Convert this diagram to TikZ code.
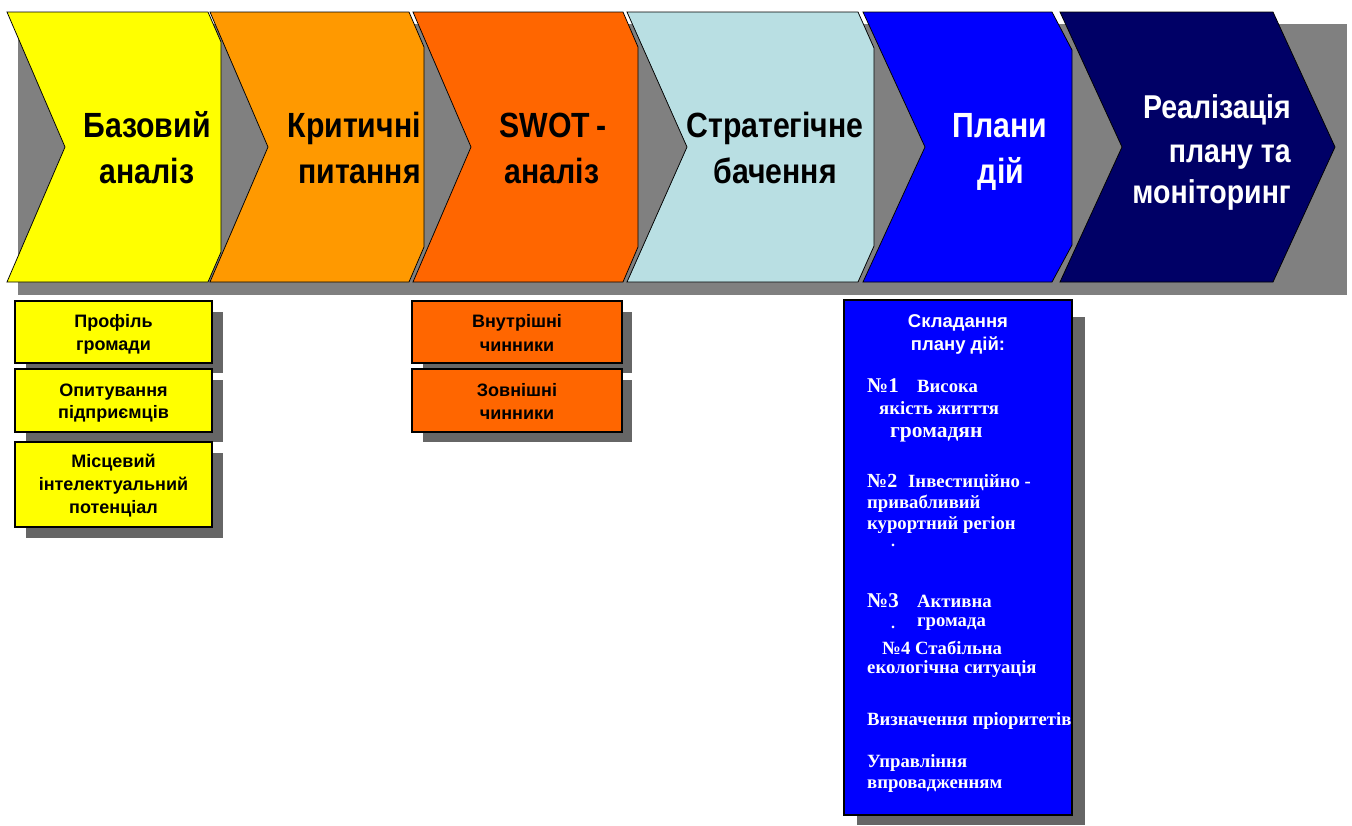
\documentclass[tikz,border=0pt]{standalone}
\usepackage{fontspec}
\setmainfont{Liberation Sans}
\newfontfamily\cond{Liberation Sans}[FakeStretch=0.864]
\newfontfamily\tms{Liberation Serif}
\definecolor{cYel}{HTML}{FFFF00}
\definecolor{cOr}{HTML}{FF9900}
\definecolor{cDOr}{HTML}{FF6600}
\definecolor{cLB}{HTML}{B9DFE3}
\definecolor{cBl}{HTML}{0000FF}
\definecolor{cNv}{HTML}{000066}
\definecolor{shA}{HTML}{808080}
\definecolor{shB}{HTML}{666666}
\begin{document}
\begin{tikzpicture}[x=1pt,y=-1pt,
  chev/.style={draw=black, line width=0.75pt, line join=miter},
  big/.style={inner sep=0pt, anchor=base, font=\cond\fontsize{35}{42}\selectfont\bfseries},
  bigR/.style={big, anchor=base east},
  mid/.style={inner sep=0pt, anchor=base east, text=white, font=\cond\fontsize{33}{38}\selectfont\bfseries},
  box/.style={draw=black, line width=1.3pt, inner sep=0pt},
  sm/.style={inner sep=0pt, anchor=base, font=\fontsize{18}{20}\selectfont\bfseries},
  smw/.style={sm, text=white, font=\fontsize{18.5}{20}\selectfont\bfseries},
  tm/.style={inner sep=0pt, anchor=base west, text=white, font=\tms\fontsize{18.7}{20}\selectfont\bfseries},
  tmbig/.style={tm, font=\tms\fontsize{21}{24}\selectfont\bfseries},
  dotmark/.style={tm, font=\tms\fontsize{16}{16}\selectfont\bfseries, text height=2pt, text depth=0pt}
]
\useasboundingbox (0,0) rectangle (1352,825);
% shadow of the chevron band
\fill[shA] (18,24) rectangle (1347,295);
% chevrons
\draw[chev, fill=cYel] (7,12) -- (208,12) -- (221,42) -- (221,252) -- (208,282) -- (7,282) -- (65,147) -- cycle;
\draw[chev, fill=cOr] (210,12) -- (409,12) -- (424,47) -- (424,247) -- (409,282) -- (210,282) -- (268,147) -- cycle;
\draw[chev, fill=cDOr] (413,12) -- (623,12) -- (638,47) -- (638,247) -- (623,282) -- (413,282) -- (471,147) -- cycle;
\draw[chev, fill=cLB] (627,12) -- (858,12) -- (874,48) -- (874,246) -- (858,282) -- (627,282) -- (687,147) -- cycle;
\draw[chev, fill=cBl] (863,12) -- (1052,12) -- (1072,50) -- (1072,245) -- (1052,282) -- (863,282) -- (925,147) -- cycle;
\draw[chev, fill=cNv] (1060,12) -- (1273,12) -- (1335,147) -- (1273,282) -- (1060,282) -- (1122,147) -- cycle;
% chevron labels
\node[big] (c1a) at (147,137) {Базовий};
\node[big] (c1b) at (147,183) {аналіз};
\node[bigR] (c2a) at (421,137) {Критичні};
\node[bigR] (c2b) at (421,183) {питання};
\node[big] (c3a) at (553,137) {SWOT\,-};
\node[big] (c3b) at (552,183) {аналіз};
\node[big] (c4a) at (775,137) {Стратегічне};
\node[big] (c4b) at (775,183) {бачення};
\node[big, text=white] (c5a) at (1000,137) {Плани};
\node[big, text=white] (c5b) at (1001,183) {дій};
\node[mid] (c6a) at (1291,118) {Реалізація};
\node[mid] (c6b) at (1291,162) {плану та};
\node[mid] (c6c) at (1291,203) {моніторинг};
% small box shadows
\fill[shB] (26,312) rectangle (223,373);
\fill[shB] (26,380) rectangle (223,442);
\fill[shB] (26,453) rectangle (223,538);
\fill[shB] (423,312) rectangle (632,373);
\fill[shB] (423,380) rectangle (632,442);
\fill[shB] (857,317) rectangle (1085,825);
% boxes
\node[box, fill=cYel, minimum width=197pt, minimum height=62pt] (y1) at (113.5,332) {};
\node[box, fill=cYel, minimum width=197pt, minimum height=63pt] (y2) at (113.5,400.5) {};
\node[box, fill=cYel, minimum width=197pt, minimum height=85pt] (y3) at (113.5,484.5) {};
\node[box, fill=cDOr, minimum width=210pt, minimum height=62pt] (o1) at (517,332) {};
\node[box, fill=cDOr, minimum width=210pt, minimum height=63pt] (o2) at (517,400.5) {};
\node[box, fill=cBl, minimum width=228pt, minimum height=515pt] (bl) at (958,557.5) {};
% box texts
\node[sm] (y1a) at (113.5,327) {Профіль};
\node[sm] (y1b) at (113.5,350) {громади};
\node[sm] (y2a) at (113.5,396) {Опитування};
\node[sm] (y2b) at (113.5,418) {підприємців};
\node[sm] (y3a) at (113.5,467) {Місцевий};
\node[sm] (y3b) at (113.5,490) {інтелектуальний};
\node[sm] (y3c) at (113.5,513) {потенціал};
\node[sm] (o1a) at (517,327) {Внутрішні};
\node[sm] (o1b) at (517,351) {чинники};
\node[sm] (o2a) at (517,396) {Зовнішні};
\node[sm] (o2b) at (517,419) {чинники};
\node[smw] (bla) at (958,327) {Складання};
\node[smw] (blb) at (958,350) {плану дій:};
\node[tmbig] (n1) at (867,392) {№1};
\node[tm] (n1a) at (917,392) {Висока};
\node[tm] (n1b) at (879,414) {якість житття};
\node[tm, font=\tms\fontsize{21.5}{22}\selectfont\bfseries] (n1c) at (890,437) {громадян};
\node[tm, font=\tms\fontsize{20}{22}\selectfont\bfseries] (n2) at (867,487) {№2};
\node[tm] (n2a) at (908,487) {Інвестиційно -};
\node[tm] (n2b) at (867,508) {привабливий};
\node[tm] (n2c) at (867,529) {курортний регіон};
\node[dotmark] (n2d) at (891,546) {.};
\node[tmbig] (n3) at (867,607) {№3};
\node[tm] (n3a) at (917,607) {Активна};
\node[dotmark] (n3d) at (891,628) {.};
\node[tm] (n3b) at (917,626) {громада};
\node[tm] (n4) at (882,654) {№4 Стабільна};
\node[tm] (n4a) at (867,673) {екологічна ситуація};
\node[tm] (p1) at (867,725) {Визначення пріоритетів};
\node[tm] (u1) at (867,767) {Управління};
\node[tm] (u2) at (867,788) {впровадженням};
\end{tikzpicture}
\end{document}
